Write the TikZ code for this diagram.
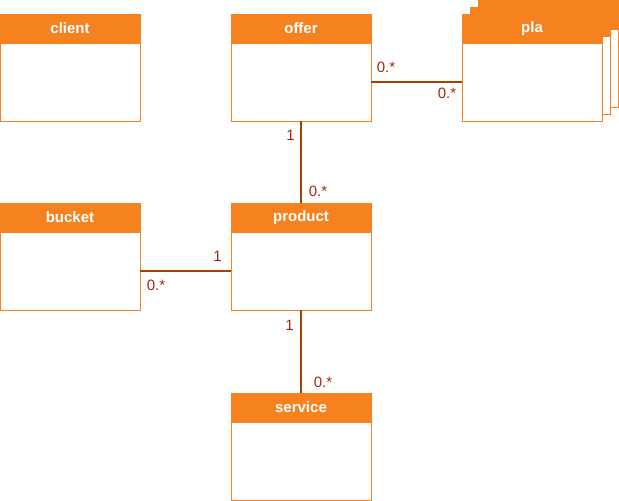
\documentclass[tikz,border=0pt]{standalone}
\usepackage{fontspec}
\setmainfont{Liberation Sans}
\usepackage{tikz}
\usetikzlibrary{positioning}
\definecolor{umlorange}{RGB}{245, 130, 31}
\definecolor{assoccolor}{RGB}{168, 64, 0}
\definecolor{multcolor}{RGB}{165, 35, 20}
\tikzstyle{head} = [rectangle, minimum width=140pt, minimum height=29pt, inner sep=0pt, outer sep=0pt, draw=umlorange, fill=umlorange, text=white, font=\fontsize{15}{17}\selectfont\bfseries, line width=1pt]
\tikzstyle{body} = [rectangle, minimum width=140pt, minimum height=78pt, inner sep=0pt, outer sep=0pt, draw=umlorange, fill=white, line width=1pt]
\tikzstyle{assoc} = [draw=assoccolor, line width=1.6pt]
\tikzstyle{mult} = [text=multcolor, font=\fontsize{15}{17}\selectfont, inner sep=0pt]

\begin{document}
\begin{tikzpicture}[x=1pt, y=-1pt]
\useasboundingbox (0,0) rectangle (619,501);

% Stapel hinter pla
\foreach \dx/\dy/\n in {16.5/14/c, 8/7/b} {
  \node (plahead\n) [head] at (532+\dx,28.5-\dy) {};
  \node (plabody\n) [body, below=0pt of plahead\n] {};
}

% Klassen oben
\node (client) [head] at (70,28.5) {client};
\node (clientbody) [body, below=0pt of client] {};
\node (offer) [head] at (301,28.5) {offer};
\node (offerbody) [body, below=0pt of offer] {};
\node (pla) [head] at (532,28.5) {pla};
\node (plabody) [body, below=0pt of pla] {};

% Klassen Mitte
\node (bucket) [head] at (70,217.5) {bucket};
\node (bucketbody) [body, below=0pt of bucket] {};
\node (product) [head] at (301,217.5) {product};
\node (productbody) [body, below=0pt of product] {};

% Klasse unten
\node (service) [head] at (301,407.5) {service};
\node (servicebody) [body, below=0pt of service] {};

% Assoziationen
\draw [assoc] (offerbody) -- (plabody)
  node [mult, at start, anchor=south west, xshift=5pt, yshift=9pt] {0.*}
  node [mult, at end, anchor=north east, xshift=-5pt, yshift=-5pt] {0.*};
\draw [assoc] (offerbody.south) -- (product.north)
  node [mult, at start, anchor=north east, xshift=-5.5pt, yshift=-8pt] {1}
  node [mult, at end, anchor=south west, xshift=7pt, yshift=6pt] {0.*};
\draw [assoc] (bucketbody) -- (productbody)
  node [mult, at start, anchor=north west, xshift=6pt, yshift=-8pt] {0.*}
  node [mult, at end, anchor=south east, xshift=-8.5pt, yshift=9pt] {1};
\draw [assoc] (productbody.south) -- (service.north)
  node [mult, at start, anchor=north east, xshift=-6.5pt, yshift=-9pt] {1}
  node [mult, at end, anchor=south west, xshift=12pt, yshift=5pt] {0.*};

\end{tikzpicture}
\end{document}
